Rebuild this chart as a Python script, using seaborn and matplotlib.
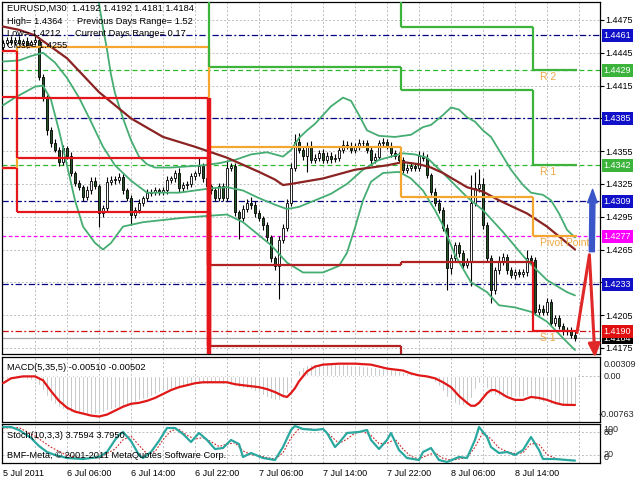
"""
EURUSD M30 chart: candles, Bollinger bands, MA, daily pivots,
MACD and Stochastic panes, laid out like a MetaTrader 4 window.
"""

import numpy as np
import matplotlib
matplotlib.use("Agg")
import matplotlib.pyplot as plt
import seaborn as sns


# ─────────────────────────────────────────────
# Data (bar index 0 = 5 Jul 22:00, one bar per 30 min)
# ─────────────────────────────────────────────
first_open = 1.4450
closes = [
    1.4454, 1.4457, 1.4455, 1.4457, 1.4454, 1.4456, 1.4452, 1.4455, 1.4457, 1.4423,
    1.4404, 1.4374, 1.4362, 1.4356, 1.4345, 1.4358, 1.4351, 1.4335, 1.4326, 1.4322,
    1.4313, 1.4319, 1.4328, 1.4323, 1.4298, 1.4303, 1.4327, 1.4329, 1.4329, 1.4331,
    1.4319, 1.4312, 1.4297, 1.4301, 1.4308, 1.4312, 1.4317, 1.4318, 1.4319, 1.4318,
    1.4319, 1.4329, 1.4330, 1.4335, 1.4321, 1.4324, 1.4325, 1.4332, 1.4335, 1.4341,
    1.4330, 1.4323, 1.4319, 1.4312, 1.4323, 1.4312, 1.4340, 1.4341, 1.4299, 1.4294,
    1.4302, 1.4308, 1.4306, 1.4298, 1.4294, 1.4287, 1.4276, 1.4257, 1.4250, 1.4274,
    1.4285, 1.4308, 1.4340, 1.4363, 1.4356, 1.4351, 1.4360, 1.4347, 1.4349, 1.4353,
    1.4347, 1.4351, 1.4348, 1.4349, 1.4356, 1.4361, 1.4360, 1.4356, 1.4359, 1.4362,
    1.4362, 1.4356, 1.4347, 1.4350, 1.4362, 1.4363, 1.4360, 1.4353, 1.4351, 1.4347,
    1.4338, 1.4340, 1.4341, 1.4340, 1.4351, 1.4349, 1.4333, 1.4318, 1.4308, 1.4301,
    1.4285, 1.4248, 1.4257, 1.4269, 1.4262, 1.4251, 1.4254, 1.4308, 1.4321, 1.4325,
    1.4287, 1.4257, 1.4228, 1.4246, 1.4254, 1.4258, 1.4246, 1.4242, 1.4244, 1.4243,
    1.4244, 1.4257, 1.4255, 1.4208, 1.4211, 1.4208, 1.4217, 1.4198, 1.4202, 1.4195,
    1.4190, 1.4191, 1.4187, 1.4184,
]
# wick lengths beyond the body, in pips
up_wick = [
    3, 2, 3, 2, 3, 2, 3, 2, 3, 2,
    3, 2, 3, 4, 3, 3, 2, 3, 2, 3,
    2, 4, 3, 3, 2, 3, 4, 3, 3, 4,
    3, 2, 3, 3, 3, 2, 3, 2, 3, 2,
    3, 3, 2, 3, 5, 3, 3, 3, 2, 8,
    3, 3, 2, 3, 3, 3, 7, 3, 3, 2,
    4, 3, 5, 3, 3, 2, 3, 2, 2, 3,
    3, 3, 4, 8, 9, 3, 3, 4, 3, 3,
    4, 3, 3, 3, 4, 4, 3, 3, 3, 4,
    3, 3, 3, 3, 3, 4, 3, 3, 3, 3,
    3, 3, 4, 3, 4, 3, 3, 2, 3, 3,
    3, 3, 4, 3, 3, 3, 3, 25, 15, 14,
    5, 3, 3, 3, 5, 4, 3, 3, 3, 3,
    3, 8, 3, 3, 4, 3, 4, 3, 3, 3,
    3, 3, 3, 3,
]
low_wick = [
    3, 2, 3, 3, 2, 3, 3, 2, 3, 3,
    3, 4, 3, 2, 4, 3, 3, 3, 3, 3,
    4, 3, 3, 3, 12, 3, 3, 3, 4, 3,
    3, 3, 10, 3, 3, 3, 3, 3, 3, 3,
    3, 3, 3, 3, 3, 3, 4, 3, 3, 3,
    3, 4, 3, 3, 3, 3, 3, 3, 3, 19,
    3, 3, 4, 3, 3, 4, 3, 3, 4, 30,
    3, 3, 3, 3, 3, 4, 15, 3, 3, 3,
    3, 3, 4, 3, 3, 3, 3, 3, 3, 3,
    3, 3, 4, 3, 3, 3, 3, 3, 3, 3,
    3, 3, 3, 3, 3, 3, 3, 3, 3, 3,
    3, 20, 5, 3, 4, 3, 3, 22, 3, 3,
    3, 3, 12, 4, 3, 3, 3, 3, 4, 3,
    3, 3, 3, 3, 3, 3, 3, 3, 3, 3,
    3, 3, 3, 3,
]

# moving average and Bollinger bands, read at sample bars
ma_bars = [0, 4, 8, 16, 24, 32, 40, 48, 56, 64, 68, 70, 72, 80, 88, 96, 100, 104,
           107, 110, 116, 120, 124, 131, 136, 140, 143]
ma_vals = [1.4469, 1.4466, 1.4461, 1.4440, 1.4409, 1.4385, 1.4368, 1.4359, 1.4349,
           1.4336, 1.4329, 1.4324, 1.4325, 1.4330, 1.4338, 1.4342, 1.4345, 1.4343,
           1.4340, 1.4335, 1.4322, 1.4318, 1.4310, 1.4298, 1.4286, 1.4274, 1.4265]

bb_up_bars = [24, 25, 26, 27, 28, 30, 32, 34, 36, 38, 42, 46, 50, 54, 58, 62, 66, 70,
              72, 74, 76, 78, 80, 82, 85, 87, 89, 91, 94, 98, 102, 105, 107, 110, 112,
              114, 116, 118, 120, 122, 125, 127, 130, 132, 135, 137, 139, 141, 143]
bb_up = [1.4490, 1.4468, 1.4448, 1.4425, 1.4408, 1.4385, 1.4365, 1.4350, 1.4343,
         1.4340, 1.4340, 1.4341, 1.4342, 1.4344, 1.4347, 1.4352, 1.4354, 1.4350,
         1.4356, 1.4367, 1.4374, 1.4380, 1.4388, 1.4396, 1.4404, 1.4401, 1.4388,
         1.4374, 1.4369, 1.4368, 1.4370, 1.4377, 1.4379, 1.4388, 1.4395, 1.4393,
         1.4386, 1.4382, 1.4374, 1.4368, 1.4350, 1.4338, 1.4324, 1.4317, 1.4315,
         1.4310, 1.4298, 1.4283, 1.4276]

bb_mid_bars = [0, 4, 7, 10, 13, 16, 19, 22, 25, 28, 32, 36, 40, 44, 48, 52, 56, 60,
               64, 68, 71, 74, 78, 82, 86, 90, 94, 97, 100, 103, 106, 110, 116, 120,
               125, 131, 136, 141, 143]
bb_mid = [1.4437, 1.4438, 1.4442, 1.4445, 1.4436, 1.4422, 1.4404, 1.4382, 1.4359,
          1.4342, 1.4328, 1.4317, 1.4317, 1.4317, 1.4319, 1.4321, 1.4322, 1.4319,
          1.4312, 1.4306, 1.4302, 1.4304, 1.4310, 1.4316, 1.4325, 1.4338, 1.4347,
          1.4350, 1.4353, 1.4352, 1.4349, 1.4335, 1.4313, 1.4301, 1.4281, 1.4255,
          1.4237, 1.4226, 1.4223]

bb_low_bars = [0, 3, 8, 10, 12, 14, 16, 18, 20, 23, 25, 27, 30, 35, 45, 52, 56, 60,
               64, 67, 71, 75, 80, 84, 86, 88, 90, 92, 95, 99, 102, 105, 108, 110,
               113, 117, 121, 124, 128, 132, 136, 140, 143]
bb_low = [1.4397, 1.4404, 1.4414, 1.4415, 1.4402, 1.4374, 1.4342, 1.4310, 1.4286,
          1.4271, 1.4265, 1.4271, 1.4286, 1.4290, 1.4294, 1.4296, 1.4297, 1.4290,
          1.4278, 1.4269, 1.4253, 1.4244, 1.4244, 1.4250, 1.4262, 1.4285, 1.4310,
          1.4327, 1.4335, 1.4336, 1.4330, 1.4319, 1.4301, 1.4287, 1.4260, 1.4235,
          1.4226, 1.4214, 1.4212, 1.4208, 1.4199, 1.4184, 1.4173]

# daily pivot levels, one value per period (values past the edge are off-chart)
period_starts = [-0.5, 3.5, 51.5, 99.5, 132.5]
period_end = 143.5
pivot = [1.4340, 1.4450, 1.4359, 1.4313, 1.4277]
r1 = [1.4530, 1.4530, 1.4432, 1.4411, 1.4342]
r2 = [1.4540, 1.4540, 1.4540, 1.4469, 1.4429]
s1 = [1.4447, 1.4404, 1.4251, 1.4254, 1.4190]
s2 = [1.4405, 1.4349, 1.4177, 1.4140, 1.4140]
s3 = [1.4340, 1.4299, 1.4120, 1.4120, 1.4120]

navy_levels = [1.4461, 1.4385, 1.4309, 1.4233]
green_levels = [1.4429, 1.4342]
pivot_level = 1.4277
s1_level = 1.4190
bid_level = 1.4184

price_ticks = [1.4175, 1.4205, 1.4235, 1.4265, 1.4295, 1.4325, 1.4355, 1.4385,
               1.4415, 1.4445, 1.4475]

# forecast arrows drawn right of the last bar
buy_arrow_bars = [147.2, 147.4]
buy_arrow_prices = [1.4263, 1.4320]
sell_path_bars = [143.5, 146.6, 148.0]
sell_path_prices = [1.4189, 1.4260, 1.4166]

# MACD(5,35,5)
macd_hist = [
    -0.00052, -0.00052, -0.00034, -0.00034, -0.00034, -0.00034, -0.00052, -0.00069, -0.00086, -0.00155,
    -0.00240, -0.00343, -0.00429, -0.00481, -0.00532, -0.00567, -0.00601, -0.00618, -0.00635, -0.00635,
    -0.00652, -0.00652, -0.00652, -0.00652, -0.00652, -0.00618, -0.00584, -0.00567, -0.00549, -0.00532,
    -0.00515, -0.00498, -0.00481, -0.00446, -0.00412, -0.00395, -0.00378, -0.00343, -0.00309, -0.00275,
    -0.00258, -0.00240, -0.00223, -0.00206, -0.00206, -0.00189, -0.00172, -0.00155, -0.00155, -0.00137,
    -0.00137, -0.00137, -0.00120, -0.00120, -0.00120, -0.00137, -0.00137, -0.00155, -0.00172, -0.00189,
    -0.00206, -0.00206, -0.00223, -0.00258, -0.00292, -0.00326, -0.00361, -0.00395, -0.00412, -0.00412,
    -0.00378, -0.00292, -0.00137, 0.00017, 0.00120, 0.00172, 0.00206, 0.00223, 0.00223, 0.00223,
    0.00223, 0.00223, 0.00223, 0.00223, 0.00223, 0.00223, 0.00223, 0.00206, 0.00206, 0.00206,
    0.00189, 0.00189, 0.00172, 0.00172, 0.00155, 0.00155, 0.00137, 0.00137, 0.00120, 0.00086,
    0.00069, 0.00052, 0.00052, 0.00034, 0.00017, -0.00017, -0.00034, -0.00052, -0.00103, -0.00172,
    -0.00258, -0.00361, -0.00412, -0.00464, -0.00498, -0.00498, -0.00498, -0.00378, -0.00223, -0.00120,
    -0.00137, -0.00206, -0.00292, -0.00326, -0.00343, -0.00361, -0.00361, -0.00361, -0.00361, -0.00361,
    -0.00361, -0.00343, -0.00361, -0.00412, -0.00429, -0.00446, -0.00446, -0.00481, -0.00498, -0.00498,
    -0.00510, -0.00510, -0.00510, -0.00510,
]
macd_sig_bars = [0, 2, 5, 8, 10, 12, 14, 16, 18, 20, 22, 24, 26, 28, 30, 32, 34, 36, 38,
                 40, 42, 44, 46, 48, 50, 52, 54, 56, 58, 60, 62, 64, 66, 68, 70, 71, 72,
                 73, 74, 76, 78, 80, 84, 88, 92, 94, 96, 98, 100, 102, 104, 106, 108,
                 110, 112, 114, 116, 117, 118, 119, 121, 122, 123, 124, 126, 128, 130,
                 132, 134, 136, 138, 140, 143]
macd_sig = [-0.00120, -0.00034, 0.0, 0.0, -0.00069, -0.00258, -0.00429, -0.00549,
            -0.00618, -0.00652, -0.00687, -0.00704, -0.00670, -0.00601, -0.00532,
            -0.00481, -0.00464, -0.00429, -0.00378, -0.00309, -0.00240, -0.00189,
            -0.00155, -0.00120, -0.00103, -0.00103, -0.00103, -0.00103, -0.00137,
            -0.00155, -0.00172, -0.00189, -0.00223, -0.00275, -0.00343, -0.00361,
            -0.00292, -0.00206, -0.00086, 0.00086, 0.00172, 0.00206, 0.00223, 0.00223,
            0.00206, 0.00172, 0.00137, 0.00120, 0.00103, 0.00052, 0.00017, 0.0,
            -0.00034, -0.00103, -0.00189, -0.00343, -0.00464, -0.00515, -0.00515,
            -0.00464, -0.00292, -0.00240, -0.00240, -0.00275, -0.00361, -0.00412,
            -0.00412, -0.00361, -0.00378, -0.00412, -0.00464, -0.00498, -0.00502]

# Stochastic(10,3,3)
stoch_bars = [0, 2, 4, 7, 9, 11, 13, 16, 20, 24, 26, 28, 29, 30, 32, 34, 35, 37, 39,
              41, 43, 45, 47, 49, 51, 53, 55, 57, 59, 60, 62, 65, 68, 70, 72, 73, 75,
              78, 80, 81, 83, 84, 86, 89, 91, 92, 94, 96, 97, 99, 101, 104, 105, 107,
              109, 111, 114, 116, 118, 119, 121, 122, 124, 126, 128, 130, 132, 134,
              135, 138, 141, 143]
stoch_main = [94.6, 94.6, 86.5, 64.9, 43.2, 27.0, 18.9, 10.8, 8.1, 13.5,
              27.0, 59.5, 73.0, 81.1, 56.8, 18.9, 10.8, 27.0, 56.8, 91.9,
              91.9, 75.7, 54.1, 78.4, 59.5, 35.1, 37.8, 59.5, 48.6, 13.5,
              24.3, 10.8, 5.4, 40.5, 86.5, 97.3, 89.2, 86.5, 89.2, 78.4,
              40.5, 51.4, 78.4, 81.1, 86.5, 59.5, 35.1, 59.5, 78.4, 32.4,
              10.8, 5.4, 27.0, 37.8, 5.4, 0.0, 13.5, 10.8, 59.5, 94.6,
              67.6, 40.5, 24.3, 27.0, 18.9, 32.4, 67.6, 32.4, 8.1, 8.1,
              5.4, 3.76]
stoch_sig_bars = [0, 4, 8, 12, 16, 20, 24, 28, 30, 32, 34, 36, 38, 40, 42, 44, 46, 48,
                  50, 52, 54, 56, 58, 60, 62, 64, 66, 68, 70, 72, 74, 76, 78, 80, 82,
                  84, 86, 88, 90, 92, 94, 96, 98, 100, 102, 104, 106, 108, 110, 112,
                  114, 116, 118, 120, 122, 124, 126, 128, 130, 132, 134, 136, 138,
                  140, 143]
stoch_sig = [92, 93, 70, 40, 18, 10, 11, 35, 60, 70, 45, 22, 28, 60, 85, 88, 72, 62,
             66, 55, 42, 48, 52, 30, 20, 17, 12, 8, 25, 65, 90, 90, 88, 88, 70, 50,
             62, 78, 82, 72, 50, 50, 62, 35, 15, 8, 18, 25, 10, 5, 8, 12, 40, 80,
             62, 38, 28, 23, 25, 50, 48, 20, 10, 6, 3.8]

grid_bars = list(range(8, 150, 8))
tick_bars = [0, 16, 32, 48, 64, 80, 96, 112, 128]
tick_labels = ["5 Jul 2011", "6 Jul 06:00", "6 Jul 14:00", "6 Jul 22:00", "7 Jul 06:00",
               "7 Jul 14:00", "7 Jul 22:00", "8 Jul 06:00", "8 Jul 14:00"]

PIP = 0.0001

# ─────────────────────────────────────────────
# Style / layout
# ─────────────────────────────────────────────
sns.set_style("white")
plt.rcParams["font.family"] = ["Liberation Sans", "DejaVu Sans"]

W, H = 640, 480
fig = plt.figure(figsize=(W / 100, H / 100), dpi=100)
fig.patch.set_facecolor("white")


def px_axes(x0, y0, x1, y1):
    return fig.add_axes([x0 / W, 1 - y1 / H, (x1 - x0) / W, (y1 - y0) / H])


def fig_text(x, y, s, **kw):
    fig.text(x / W, 1 - y / H, s, va="center", ha="left", **kw)


ax = px_axes(2, 2, 600, 354)
ax_macd = px_axes(2, 357, 600, 422)
ax_st = px_axes(2, 424, 600, 463)

XLIM = (-0.25, 149.25)
GRID = "#bdbdbd"
for a in (ax, ax_macd, ax_st):
    a.set_xlim(*XLIM)
    a.set_facecolor("white")
    for sp in a.spines.values():
        sp.set_color("black")
        sp.set_linewidth(0.9)
    for gx in grid_bars:
        a.axvline(gx, color=GRID, lw=0.7, ls=(0, (2, 2)), zorder=0)

# ─────────────────────────────────────────────
# Main pane
# ─────────────────────────────────────────────
ax.set_ylim(1.416939, 1.449147)
for p in price_ticks:
    ax.axhline(p, color=GRID, lw=0.7, ls=(0, (2, 2)), zorder=0)

for lv in navy_levels:
    ax.axhline(lv, color="#000080", lw=0.9, ls=(0, (5, 2, 1.5, 2)), zorder=1)
for lv in green_levels:
    ax.axhline(lv, color="#2eb82e", lw=0.9, ls=(0, (4, 2.5)), zorder=1)
ax.axhline(pivot_level, color="#ff00ff", lw=0.9, ls=(0, (3, 2)), zorder=1)
ax.axhline(s1_level, color="#d01010", lw=0.9, ls=(0, (5, 2, 1.5, 2)), zorder=1)
ax.axhline(bid_level, color="#a8a8a8", lw=0.9, zorder=1)

# candles
bars = np.arange(len(closes))
c = np.array(closes)
o = np.r_[first_open, c[:-1]]
hi = np.maximum(o, c) + np.array(up_wick) * PIP
lo = np.minimum(o, c) - np.array(low_wick) * PIP
body_h = np.where(np.abs(c - o) < 0.00003, 0.00003, c - o)
body_col = np.where(c >= o, "white", "#245524")
ax.vlines(bars, lo, hi, color="black", lw=0.8, zorder=2)
ax.bar(bars, body_h, bottom=o, width=0.72, color=body_col, edgecolor="black",
       linewidth=0.6, zorder=2.5)

# Bollinger bands and MA
BAND = "#45ad72"
for bx, by in ((bb_up_bars, bb_up), (bb_mid_bars, bb_mid), (bb_low_bars, bb_low)):
    sns.lineplot(x=bx, y=by, ax=ax, color=BAND, lw=1.3, zorder=3)
sns.lineplot(x=ma_bars, y=ma_vals, ax=ax, color="#8b2323", lw=1.6, zorder=3.2)


# pivot step lines
def draw_levels(values, colors, lw=1.6, jump_lw=None):
    for k, v in enumerate(values):
        x0 = period_starts[k]
        x1 = period_starts[k + 1] if k + 1 < len(values) else period_end
        ax.plot([x0, x1], [v, v], color=colors[k], lw=lw, zorder=3.5,
                solid_capstyle="butt")
        if k + 1 < len(values):
            w = jump_lw[k] if jump_lw else lw
            ax.plot([x1, x1], [v, values[k + 1]], color=colors[k + 1] if w == lw else colors[k],
                    lw=w, zorder=3.6, solid_capstyle="butt")


ORANGE, GREEN, RED, DRED = "#f5a631", "#3cb43c", "#e5161b", "#b22222"
draw_levels(pivot, [ORANGE] * 5)
draw_levels(r1, [GREEN] * 5)
draw_levels(r2, [GREEN] * 5)
s_cols = [RED, RED, DRED, DRED, RED]
for lvl in (s1, s2, s3):
    draw_levels(lvl, s_cols, jump_lw=[1.6, 3.2, 1.6, 1.6])

LBL = "#eda844"
for name, lv in (("R 2", r2[-1]), ("R 1", r1[-1]), ("Pivot Point", pivot[-1]), ("S 1", s1[-1])):
    ax.annotate(name, xy=(period_starts[-1], lv), xytext=(7, -7), textcoords="offset pixels",
                fontsize=7.5, color=LBL, va="center", ha="left", zorder=4)

# forecast arrows
ax.annotate("", xy=(buy_arrow_bars[1], buy_arrow_prices[1]),
            xytext=(buy_arrow_bars[0], buy_arrow_prices[0]),
            arrowprops=dict(arrowstyle="simple,head_length=1.6,head_width=1.15,tail_width=0.6",
                            fc="#3a56c8", ec="#3a56c8", mutation_scale=6,
                            shrinkA=0, shrinkB=0), zorder=5)
ax.plot(sell_path_bars[:2], sell_path_prices[:2], color="#e02828", lw=2.2, zorder=5)
ax.annotate("", xy=(sell_path_bars[2], sell_path_prices[2]),
            xytext=(sell_path_bars[1], sell_path_prices[1]),
            arrowprops=dict(arrowstyle="-|>,head_length=0.8,head_width=0.35", color="#e02828",
                            lw=2.2, mutation_scale=10, shrinkA=0, shrinkB=0),
            annotation_clip=False, zorder=5)

# right price scale (ticks hidden under the level boxes get no plain label)
boxed = set(round(v, 3) for v in navy_levels)
ax.yaxis.tick_right()
ax.set_yticks(price_ticks)
ax.set_yticklabels(["" if round(p, 3) in boxed else f"{p:.4f}" for p in price_ticks])
ax.tick_params(axis="y", length=3, width=0.8, pad=1, labelsize=6.5, colors="black")
ax.set_xticks([])
ax.set_xlabel("")
ax.set_ylabel("")


def box_label(a, y, text, fc):
    a.text(1.006, y, text, transform=a.get_yaxis_transform(), ha="left", va="center",
           fontsize=6.5, color="white", clip_on=False, zorder=10,
           bbox=dict(boxstyle="square,pad=0.2", fc=fc, ec="none"))


for lv in navy_levels:
    box_label(ax, lv, f"{lv:.4f}", "#1010c8")
for lv in green_levels:
    box_label(ax, lv, f"{lv:.4f}", "#3cb43c")
box_label(ax, pivot_level, f"{pivot_level:.4f}", "#ff00ff")
box_label(ax, bid_level, f"{bid_level:.4f}", "black")
box_label(ax, s1_level, f"{s1_level:.4f}", "#e01010")

# ─────────────────────────────────────────────
# MACD pane
# ─────────────────────────────────────────────
ax_macd.set_ylim(-0.0080, 0.0034)
ax_macd.axhline(0, color=GRID, lw=0.7, ls=(0, (2, 2)), zorder=0)
ax_macd.bar(bars, macd_hist, width=0.55, color="#a9a9a9", zorder=2)
sns.lineplot(x=macd_sig_bars, y=macd_sig, ax=ax_macd, color="#e01818", lw=1.6, zorder=3)
ax_macd.set_xticks([])
ax_macd.set_yticks([])
ax_macd.set_xlabel("")
ax_macd.set_ylabel("")
ax_macd.text(1.006, 0.96, "0.00309", transform=ax_macd.transAxes, va="top", ha="left",
             fontsize=6.5, clip_on=False)
ax_macd.text(1.006, 0, "0.00", transform=ax_macd.get_yaxis_transform(), va="center",
             ha="left", fontsize=6.5, clip_on=False)
ax_macd.text(0.998, 0.04, "-0.00763", transform=ax_macd.transAxes, va="bottom", ha="left",
             fontsize=6.5, clip_on=False)

# ─────────────────────────────────────────────
# Stochastic pane
# ─────────────────────────────────────────────
ax_st.set_ylim(-2.7, 102.7)
for lv in (80, 20):
    ax_st.axhline(lv, color=GRID, lw=0.7, ls=(0, (2, 2)), zorder=0)
sns.lineplot(x=stoch_sig_bars, y=stoch_sig, ax=ax_st, color="#cc2020", lw=0.8,
             linestyle=(0, (1.5, 1.5)), zorder=2)
sns.lineplot(x=stoch_bars, y=stoch_main, ax=ax_st, color="#2aa8a0", lw=1.6, zorder=3)
ax_st.set_yticks([])
ax_st.set_xlabel("")
ax_st.set_ylabel("")
for s, y, va in (("100", 0.98, "top"), ("80", 80, "center"), ("20", 20, "center"), ("0", 0.02, "bottom")):
    tr = ax_st.transAxes if s in ("100", "0") else ax_st.get_yaxis_transform()
    ax_st.text(1.006, y, s, transform=tr, va=va, ha="left", fontsize=6.5, clip_on=False)

ax_st.set_xticks(tick_bars)
ax_st.set_xticklabels(tick_labels, ha="left", fontsize=6.5)
ax_st.tick_params(axis="x", length=3, width=0.8, pad=1.5, colors="black")

# ─────────────────────────────────────────────
# Texts
# ─────────────────────────────────────────────
HDR = dict(fontsize=6.7, color="black", zorder=20)
fig_text(7, 8, "EURUSD,M30  1.4192 1.4192 1.4181 1.4184", **HDR)
fig_text(7, 21, "High= 1.4364", **HDR)
fig_text(77, 21, "Previous Days Range= 1.52", **HDR)
fig_text(7, 33, "Low= 1.4212", **HDR)
fig_text(75, 33, "Current Days Range= 0.17", **HDR)
fig_text(7, 45, "Close= 1.4255", **HDR)
fig_text(7, 367, "MACD(5,35,5) -0.00510 -0.00502", **HDR)
fig_text(7, 435, "Stoch(10,3,3) 3.7594 3.7950", **HDR)
fig_text(7, 455, "BMF-Meta, \u00a9 2001-2011 MetaQuotes Software Corp.", **HDR)

fig.savefig("out.png", dpi=100, facecolor="white")
plt.close(fig)
